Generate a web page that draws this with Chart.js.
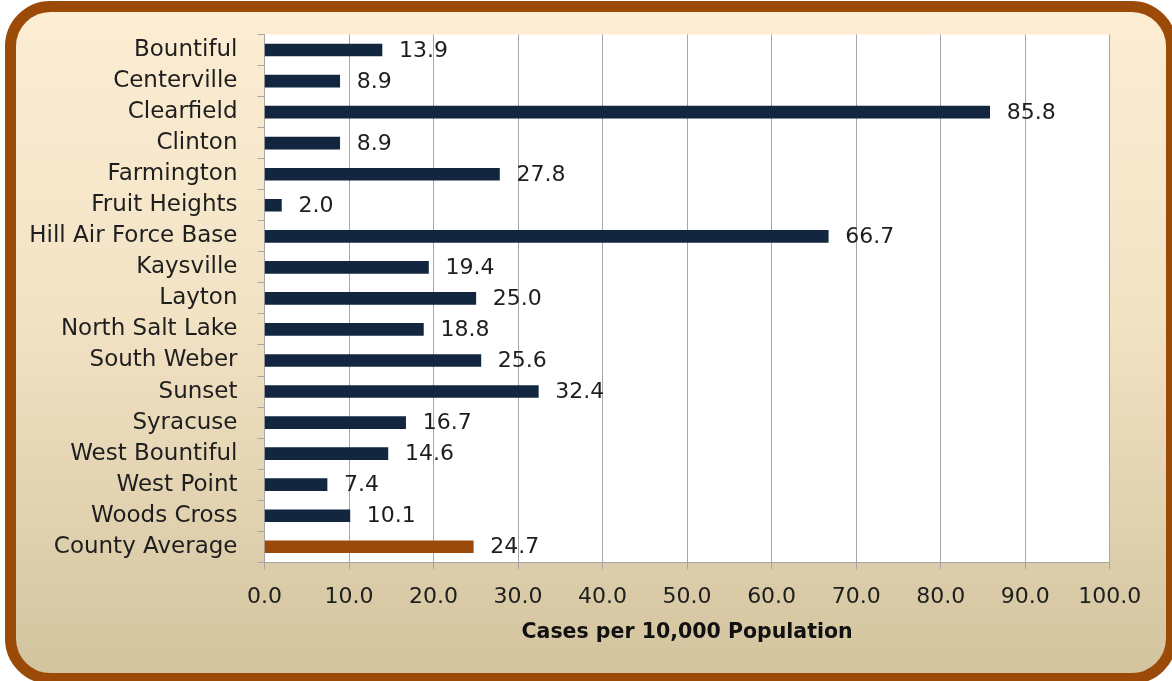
<!DOCTYPE html>
<html><head><meta charset="utf-8">
<script src="https://cdn.jsdelivr.net/npm/chart.js@4.4.0/dist/chart.umd.min.js"></script>
<style>html,body{margin:0;padding:0;background:#fff;}#wrap{width:1172px;height:681px;position:relative;}</style>
</head><body><div id="wrap"><canvas id="c" width="1172" height="681"></canvas></div>
<script>
const categories = ["Bountiful","Centerville","Clearfield","Clinton","Farmington","Fruit Heights","Hill Air Force Base","Kaysville","Layton","North Salt Lake","South Weber","Sunset","Syracuse","West Bountiful","West Point","Woods Cross","County Average"];
const rates = [13.9,8.9,85.8,8.9,27.8,2.0,66.7,19.4,25.0,18.8,25.6,32.4,16.7,14.6,7.4,10.1,24.7];
const barColors = ["#13263F","#13263F","#13263F","#13263F","#13263F","#13263F","#13263F","#13263F","#13263F","#13263F","#13263F","#13263F","#13263F","#13263F","#13263F","#13263F","#9B4A0A"];
const xTicks = [0,10,20,30,40,50,60,70,80,90,100];
const axisTitle = "Cases per 10,000 Population";

const frame = {
  id:'frame',
  beforeDraw(chart){
    const ctx = chart.ctx;
    ctx.save();
    ctx.fillStyle = '#fff';
    ctx.fillRect(0,0,chart.width,chart.height);
    const x=10.5,y=6.5,w=1161,h=672,r=40;
    ctx.beginPath();
    ctx.roundRect(x,y,w,h,r);
    const g = ctx.createLinearGradient(0,12,0,674);
    g.addColorStop(0,'#FCEDD3');
    g.addColorStop(0.45,'#F3E3C5');
    g.addColorStop(1,'#D3C49F');
    ctx.fillStyle = g;
    ctx.fill();
    ctx.lineWidth = 11;
    ctx.strokeStyle = '#9B4A08';
    ctx.stroke();
    const a = chart.chartArea;
    ctx.fillStyle = '#fff';
    ctx.fillRect(a.left,a.top,a.right-a.left,a.bottom-a.top);
    ctx.restore();
  }
};
const valueLabels = {
  id:'valueLabels',
  afterDatasetsDraw(chart){
    const ctx = chart.ctx;
    const meta = chart.getDatasetMeta(0);
    ctx.save();
    ctx.font = '22px "DejaVu Sans"';
    ctx.fillStyle = '#1e1e1e';
    ctx.textAlign = 'left';
    ctx.textBaseline = 'middle';
    meta.data.forEach((bar,i)=>{
      ctx.fillText(rates[i].toFixed(1), bar.x + 17, bar.y + 1);
    });
    ctx.restore();
  }
};

new Chart(document.getElementById('c'), {
  type:'bar',
  data:{labels:categories, datasets:[{data:rates, backgroundColor:barColors, barThickness:12, borderWidth:0}]},
  options:{
    indexAxis:'y',
    responsive:false,
    animation:false,
    devicePixelRatio:1,
    layout:{padding:{top:34.5,right:62.3,bottom:0,left:0}},
    plugins:{legend:{display:false},tooltip:{enabled:false}},
    scales:{
      x:{
        min:0,max:100,
        afterBuildTicks(scale){ scale.ticks = xTicks.map(v=>({value:v})); },
        afterFit(scale){ scale.height = 118.7; },
        grid:{color:'#A6A6A6', lineWidth:1, tickLength:7, drawTicks:true},
        border:{color:'#A6A6A6', width:1},
        ticks:{padding:15, color:'#1e1e1e', font:{family:'"DejaVu Sans"', size:22}, callback:(v)=>Number(v).toFixed(1), maxRotation:0, autoSkip:false},
        title:{display:true, text:axisTitle, color:'#111', font:{family:'"DejaVu Sans"', size:20.5, weight:'bold'}, padding:{top:0,bottom:36}}
      },
      y:{
        afterFit(scale){ scale.width = 264.5; },
        grid:{offset:true, drawOnChartArea:false, color:'#A6A6A6', tickLength:7},
        border:{color:'#A6A6A6', width:1},
        ticks:{padding:20, color:'#1e1e1e', font:{family:'"DejaVu Sans"', size:23}, autoSkip:false}
      }
    }
  },
  plugins:[frame, valueLabels]
});
</script></body></html>
